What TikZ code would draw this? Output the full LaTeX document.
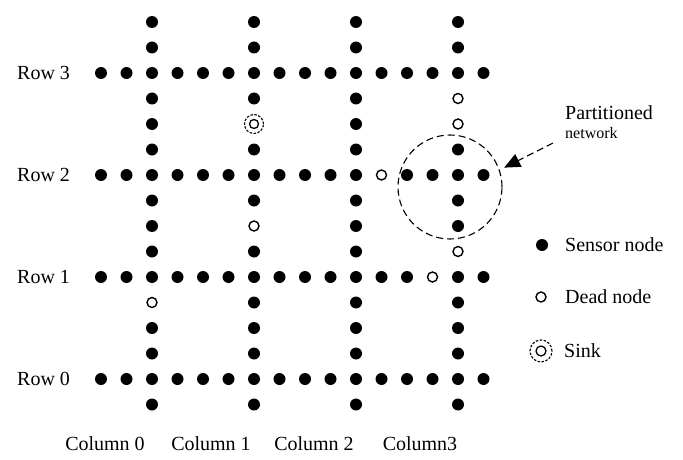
\documentclass[tikz,border=0pt]{standalone}
\usepackage{fontspec}
\setmainfont{Liberation Serif}
\usetikzlibrary{arrows.meta}
\tikzset{
  sensor/.style={circle, fill=black, inner sep=0pt, minimum size=12pt},
  dead/.style={circle, draw=black, line width=1.4pt, fill=white, inner sep=0pt, minimum size=10pt},
  sinkcore/.style={circle, draw=black, line width=1.3pt, fill=white, inner sep=0pt, minimum size=#1},
  sinkring/.style={draw=black, line width=1.1pt, dash pattern=on 2.5pt off 1.5pt},
  lbl/.style={font=\fontsize{20}{22}\selectfont, inner sep=0pt, anchor=west},
  collbl/.style={font=\fontsize{20}{22}\selectfont, inner sep=0pt},
  partcircle/.style={circle, draw=black, line width=1.1pt, dash pattern=on 7pt off 4pt, minimum size=104pt, inner sep=0pt},
  partarrow/.style={draw=black, line width=1.1pt, dash pattern=on 7pt off 4pt, -{Triangle[length=16pt,width=14pt]}}
}
\begin{document}
\begin{tikzpicture}[x=1pt,y=-1pt]
\useasboundingbox (0,0) rectangle (683,460);

% ---- rows (x = 101 + 25.5 k) ----
% Row 3 (y=73)
\foreach \k in {0,...,15} \node[sensor] (r3-\k) at ({101+25.5*\k},73) {};
% Row 2 (y=175), dead at k=11
\foreach \k in {0,...,10,12,13,14,15} \node[sensor] (r2-\k) at ({101+25.5*\k},175) {};
\node[dead] (r2-11) at ({101+25.5*11},175) {};
% Row 1 (y=277), dead at k=13
\foreach \k in {0,...,12,14,15} \node[sensor] (r1-\k) at ({101+25.5*\k},277) {};
\node[dead] (r1-13) at ({101+25.5*13},277) {};
% Row 0 (y=379)
\foreach \k in {0,...,15} \node[sensor] (r0-\k) at ({101+25.5*\k},379) {};

% ---- columns (y = 22 + 25.5 k), intersections at k = 2,6,10,14 ----
% Column 0 (x=152), dead at k=11
\foreach \k in {0,1,3,4,5,7,8,9,12,13,15} \node[sensor] (c0-\k) at (152,{22+25.5*\k}) {};
\node[dead] (c0-11) at (152,{22+25.5*11}) {};
% Column 1 (x=254), sink at k=4, dead at k=8
\foreach \k in {0,1,3,5,7,9,11,12,13,15} \node[sensor] (c1-\k) at (254,{22+25.5*\k}) {};
\node[sinkcore=9pt] (sink) at (254,{22+25.5*4}) {};
\draw[sinkring] (sink.center) circle (9.5pt);
\node[dead] (c1-8) at (254,{22+25.5*8}) {};
% Column 2 (x=356)
\foreach \k in {0,1,3,4,5,7,8,9,11,12,13,15} \node[sensor] (c2-\k) at (356,{22+25.5*\k}) {};
% Column 3 (x=458), dead at k=3,4,9
\foreach \k in {0,1,5,7,8,11,12,13,15} \node[sensor] (c3-\k) at (458,{22+25.5*\k}) {};
\foreach \k in {3,4,9} \node[dead] (c3-\k) at (458,{22+25.5*\k}) {};

% ---- row labels ----
\node[lbl] (row3) at (17,73) {Row 3};
\node[lbl] (row2) at (17,175) {Row 2};
\node[lbl] (row1) at (17,277) {Row 1};
\node[lbl] (row0) at (17,379) {Row 0};

% ---- column labels ----
\node[collbl] (col0) at (105,444) {Column 0};
\node[collbl] (col1) at (211,444) {Column 1};
\node[collbl] (col2) at (314,444) {Column 2};
\node[collbl] (col3) at (420,444) {Column3};

% ---- partitioned network ----
\node[partcircle] (part) at (450,187) {};
\coordinate (arrstart) at (553,143);
\draw[partarrow, shorten >=5pt] (arrstart) -- (part.19);
\node[lbl] (parttxt) at (565,113) {Partitioned};
\node[lbl, font=\fontsize{16}{18}\selectfont] (nettxt) at (565,133) {network};

% ---- legend ----
\node[sensor] (legsensor) at (542,245) {};
\node[lbl] (legsensortxt) at (565,245) {Sensor node};
\node[dead] (legdead) at (541,297) {};
\node[lbl] (legdeadtxt) at (565,297) {Dead node};
\node[sinkcore=10pt] (legsink) at (541,351) {};
\draw[sinkring] (legsink.center) circle (11pt);
\node[lbl] (legsinktxt) at (564,351) {Sink};
\end{tikzpicture}
\end{document}
